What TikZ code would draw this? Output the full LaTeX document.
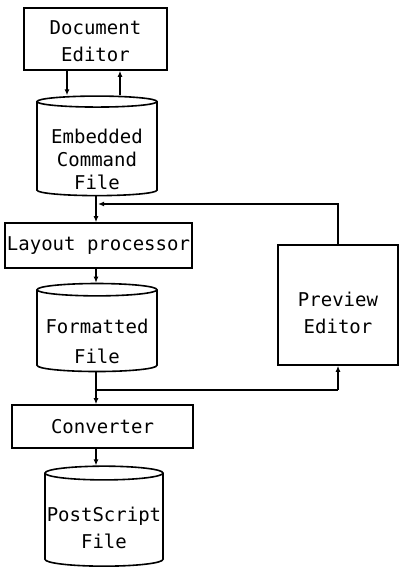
\documentclass[tikz,border=0pt]{standalone}
\usepackage{fontspec}
\setmonofont{DejaVu Sans Mono}
\usetikzlibrary{shapes.geometric,arrows.meta}

\tikzset{
  box/.style={draw, rectangle, line width=1.6pt, align=center, inner sep=0pt,
    font=\ttfamily\fontsize{19}{27}\selectfont},
  drum/.style={draw, cylinder, shape border rotate=90, aspect=0.12, line width=1.6pt,
    align=center, inner sep=0pt, font=\ttfamily\fontsize{19}{27}\selectfont},
  flow/.style={line width=1.6pt, -{Latex[length=6pt,width=5pt]}},
  wire/.style={line width=1.6pt},
}
% pushes the text of a node down
\newcommand{\pushdown}[1]{\rule{0pt}{#1}}

\begin{document}
\begin{tikzpicture}[x=1pt,y=-1pt]
\useasboundingbox (0,0) rectangle (399,572);
% boxes and files
\node[box, minimum width=143pt, minimum height=62pt] (docedit) at (95.5,39) {\pushdown{18pt}Document\\Editor};
\node[drum, minimum width=120pt, minimum height=88pt] (embfile) at (97,149) {\pushdown{36pt}Embedded\\[-4pt]Command\\[-4pt]File};
\node[box, minimum width=187pt, minimum height=45pt] (layout) at (98.5,245.5) {Layout processor};
\node[drum, minimum width=120pt, minimum height=88pt] (fmtfile) at (97,331) {\pushdown{36pt}Formatted\\[3pt]File};
\node[box, minimum width=120pt, minimum height=120pt] (preview) at (338,305) {\pushdown{30pt}Preview\\Editor};
\node[box, minimum width=181pt, minimum height=43pt] (conv) at (102.5,426.5) {Converter};
\node[drum, minimum width=118pt, minimum height=100pt] (psfile) at (104,520) {\pushdown{30pt}PostScript\\File};
% joints on the main line
\coordinate (merge) at (96,204);
\coordinate (split) at (96,390);
% editor <-> embedded file
\draw[flow] ([xshift=-28.5pt]docedit.south) -- ([xshift=-28.5pt]docedit.south |- embfile.north);
\draw[flow] ([xshift=24.5pt]docedit.south |- embfile.north) -- ([xshift=24.5pt]docedit.south);
% main line
\draw[flow] (embfile.south -| merge) -- (merge |- layout.north);
\draw[flow] (merge |- layout.south) -- (merge |- fmtfile.north);
\draw[flow] (fmtfile.south -| split) -- (split |- conv.north);
\draw[flow] (split |- conv.south) -- (split |- psfile.north);
% preview loop
\draw[wire] (split) -- (split -| preview.south);
\draw[flow] (split -| preview.south) -- (preview.south);
\draw[flow] (preview.north) -- (preview.north |- merge) -- ([xshift=2pt]merge);
\end{tikzpicture}
\end{document}
